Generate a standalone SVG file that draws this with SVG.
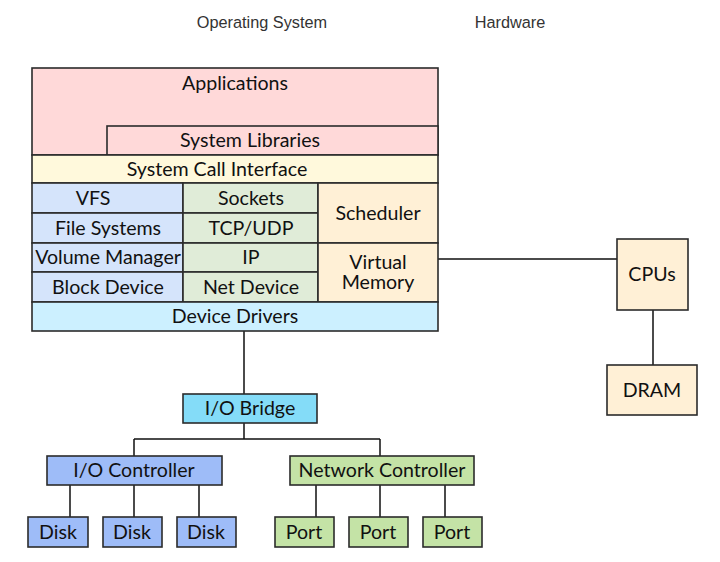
<svg xmlns="http://www.w3.org/2000/svg" width="720" height="562" viewBox="0 0 720 562">
<style>
.b{stroke:#2b2b2b;stroke-width:1.6}
.t{font-family:Lato,"Open Sans",sans-serif;font-size:19.6px;fill:#111;text-anchor:middle;dominant-baseline:central}
.h{font-family:"Liberation Sans",Arial,sans-serif;font-size:16.3px;fill:#333;text-anchor:middle}
.c{stroke:#111;stroke-width:1.5;fill:none}
.pink{fill:#ffd9d9}.yel{fill:#fff9dc}.blu{fill:#d5e4fb}.grn{fill:#e0ecd8}.org{fill:#fff0d6}.cy{fill:#ccf0ff}
.br{fill:#84dcf8}.ioc{fill:#9ebcf8}.nc{fill:#c4e3a6}
</style>
<rect width="720" height="562" fill="#fff"/>
<text class="h" x="262" y="28">Operating System</text>
<text class="h" x="510" y="28">Hardware</text>
<g id="connectors">
<path class="c" d="M244 331V394M244 423V439M134 439H380M134 439V456M380 439V456M70 485V517M134 485V517M199 485V517M316 485V517M380 485V517M445 485V517M438 259H617M653 310V365"/>
</g>
<g id="applications"><rect class="b pink" x="32" y="68" width="406" height="87"/><text class="t" x="235" y="82">Applications</text></g>
<g id="system-libraries"><rect class="b pink" x="107" y="126" width="331" height="29"/><text class="t" x="250" y="139">System Libraries</text></g>
<g id="syscall"><rect class="b yel" x="32" y="155" width="406" height="28"/><text class="t" x="217" y="168">System Call Interface</text></g>
<g id="vfs"><rect class="b blu" x="32" y="183" width="151" height="30"/><text class="t" x="93" y="197">VFS</text></g>
<g id="fs"><rect class="b blu" x="32" y="213" width="151" height="30"/><text class="t" x="108" y="227">File Systems</text></g>
<g id="vm"><rect class="b blu" x="32" y="243" width="151" height="29"/><text class="t" x="108" y="256">Volume Manager</text></g>
<g id="bd"><rect class="b blu" x="32" y="272" width="151" height="30"/><text class="t" x="108" y="286">Block Device</text></g>
<g id="sockets"><rect class="b grn" x="183" y="183" width="135" height="30"/><text class="t" x="251" y="197">Sockets</text></g>
<g id="tcp"><rect class="b grn" x="183" y="213" width="135" height="30"/><text class="t" x="251" y="227">TCP/UDP</text></g>
<g id="ip"><rect class="b grn" x="183" y="243" width="135" height="29"/><text class="t" x="251" y="256">IP</text></g>
<g id="netdev"><rect class="b grn" x="183" y="272" width="135" height="30"/><text class="t" x="251" y="286">Net Device</text></g>
<g id="scheduler"><rect class="b org" x="318" y="183" width="120" height="60"/><text class="t" x="378" y="212">Scheduler</text></g>
<g id="virtual-memory"><rect class="b org" x="318" y="243" width="120" height="59"/><text class="t" x="378" y="261">Virtual</text><text class="t" x="378" y="281">Memory</text></g>
<g id="device-drivers"><rect class="b cy" x="32" y="302" width="406" height="29"/><text class="t" x="235" y="315">Device Drivers</text></g>
<g id="io-bridge"><rect class="b br" x="183" y="394" width="134" height="29"/><text class="t" x="250" y="407">I/O Bridge</text></g>
<g id="io-controller"><rect class="b ioc" x="47" y="456" width="175" height="29"/><text class="t" x="134" y="469">I/O Controller</text></g>
<g id="net-controller"><rect class="b nc" x="290" y="456" width="184" height="29"/><text class="t" x="382" y="469">Network Controller</text></g>
<g id="disk1"><rect class="b ioc" x="28" y="517" width="60" height="30"/><text class="t" x="58" y="531">Disk</text></g>
<g id="disk2"><rect class="b ioc" x="103" y="517" width="59" height="30"/><text class="t" x="132" y="531">Disk</text></g>
<g id="disk3"><rect class="b ioc" x="177" y="517" width="59" height="30"/><text class="t" x="206" y="531">Disk</text></g>
<g id="port1"><rect class="b nc" x="275" y="517" width="59" height="30"/><text class="t" x="304" y="531">Port</text></g>
<g id="port2"><rect class="b nc" x="349" y="517" width="59" height="30"/><text class="t" x="378" y="531">Port</text></g>
<g id="port3"><rect class="b nc" x="423" y="517" width="59" height="30"/><text class="t" x="452" y="531">Port</text></g>
<g id="cpus"><rect class="b org" x="617" y="239" width="71" height="71"/><text class="t" x="652" y="273">CPUs</text></g>
<g id="dram"><rect class="b org" x="607" y="365" width="90" height="50"/><text class="t" x="652" y="389">DRAM</text></g>
</svg>
